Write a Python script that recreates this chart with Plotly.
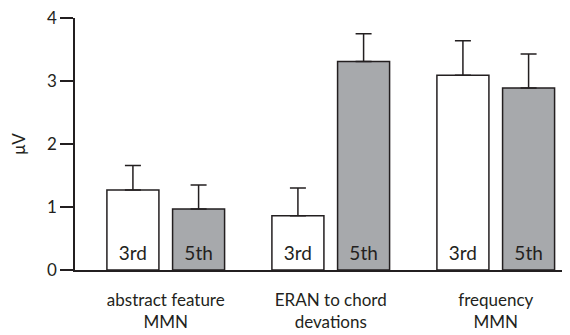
import plotly.graph_objects as go

categories = ["abstract feature<br>MMN", "ERAN to chord<br>devations", "frequency<br>MMN"]
series_names = ["3rd", "5th"]
values_3rd = [1.27, 0.86, 3.09]
errors_3rd = [0.39, 0.44, 0.55]
values_5th = [0.97, 3.31, 2.89]
errors_5th = [0.38, 0.44, 0.54]
y_ticks = [0, 1, 2, 3, 4]

ink = "#231f20"
fills = ["#ffffff", "#a7a9ac"]
xs = list(range(len(categories)))

fig = go.Figure()
for name, vals, errs, fill in [("3rd", values_3rd, errors_3rd, fills[0]),
                               ("5th", values_5th, errors_5th, fills[1])]:
    label = "<sub>&nbsp;</sub>" + name + "<sub>&nbsp;</sub>"
    fig.add_trace(go.Bar(
        x=xs, y=vals, name=name,
        marker=dict(color=fill, line=dict(color=ink, width=1.5)),
        error_y=dict(type="data", array=errs, arrayminus=[0]*len(errs), symmetric=False,
                     color=ink, thickness=1.5, width=8),
        text=[label]*len(vals), textposition="inside", insidetextanchor="start",
        textangle=0, textfont=dict(family="Lato", size=19, color=ink),
        cliponaxis=False,
    ))

# page body has an 8px margin, so the figure is shrunk by 8px to fit the window
fig.update_layout(
    width=562, height=327,
    margin=dict(l=67, r=0, t=10, b=65),
    barmode="group", bargap=0.204, bargroupgap=0.208,
    plot_bgcolor="white", paper_bgcolor="white",
    showlegend=False,
    font=dict(family="Lato", color=ink, size=16),
    uniformtext=dict(mode=False),
)
fig.update_xaxes(
    range=[-0.55, 2.45], tickvals=xs, ticktext=categories, automargin=False,
    showline=True, linecolor=ink, linewidth=1.5, ticks="", showgrid=False,
    zeroline=False, tickfont=dict(size=17, family="Lato"), ticklabelstandoff=14,
)
fig.update_yaxes(
    range=[0, 4], tickvals=y_ticks, showline=True, linecolor=ink, linewidth=1.5,
    ticks="outside", ticklen=13, tickwidth=1.5, tickcolor=ink, showgrid=False,
    zeroline=False, tickfont=dict(size=17, family="Lato"), automargin=False,
    ticklabeloverflow="allow",
    title=dict(text="μV", standoff=28, font=dict(size=17, family="Lato")),
)

fig.write_html("out.html")
